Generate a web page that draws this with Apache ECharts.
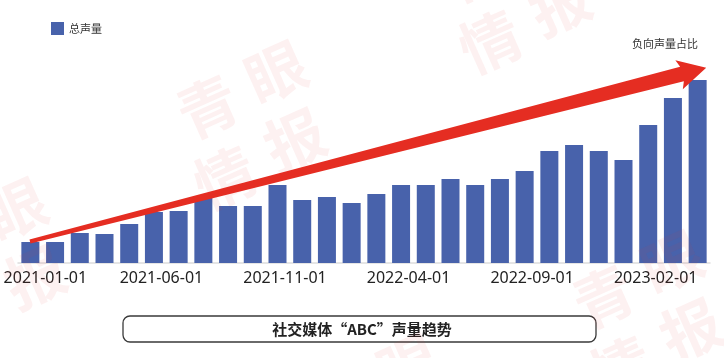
<!DOCTYPE html>
<html>
<head>
<meta charset="utf-8">
<script src="https://cdn.jsdelivr.net/npm/echarts@6/dist/echarts.min.js"></script>
<style>
html,body{margin:0;padding:0;background:#fff;}
#c{width:724px;height:358px;}
</style>
</head>
<body>
<div id="c"></div>
<script>
// ---- data ----
var categories = ['2021-01-01','2021-02-01','2021-03-01','2021-04-01','2021-05-01','2021-06-01','2021-07-01','2021-08-01','2021-09-01','2021-10-01','2021-11-01','2021-12-01','2022-01-01','2022-02-01','2022-03-01','2022-04-01','2022-05-01','2022-06-01','2022-07-01','2022-08-01','2022-09-01','2022-10-01','2022-11-01','2022-12-01','2023-01-01','2023-02-01','2023-03-01','2023-04-01'];
var totalVolume = [21,21,30,29,39,51,52,65,57,57,78,63,66,60,69,78,78,84,78,84,92,112,118,112,103,138,165,183];
var seriesName = '总声量';
var arrowLabel = '负向声量占比';
var chartTitle = '社交媒体“ABC”声量趋势';
var watermarkChars = ['青','眼','情','报'];

var chart = echarts.init(document.getElementById('c'), null, {renderer:'canvas'});

// arrow polygon (annotation)
function arrowPoints(){
  var c0 = [30, 241.5], cb = [682, 74];
  var dx = cb[0]-c0[0], dy = cb[1]-c0[1];
  var len = Math.sqrt(dx*dx+dy*dy);
  var d = [dx/len, dy/len], n = [-d[1], d[0]];
  if (n[1] < 0) { n = [-n[0], -n[1]]; }
  function p(c, k, m){ return [c[0]+n[0]*k+d[0]*m, c[1]+n[1]*k+d[1]*m]; }
  return [
    p(c0,-2,0), p(cb,-7.5,0), p(cb,-15,-3), p(cb,0,25), p(cb,15,-3), p(cb,7.5,0), p(c0,2,0)
  ];
}

var wmBlocks = [[208,107],[473,-29],[-52,244],[604,297],[340,400]];
var wmOffsets = [[0,0],[68,-35],[17,71],[87,33]];
var graphics = [];
wmBlocks.forEach(function(b){
  wmOffsets.forEach(function(o, i){
    graphics.push({
      type:'text', x:b[0]+o[0], y:b[1]+o[1], rotation: 24*Math.PI/180, z:100, silent:true,
      style:{text: watermarkChars[i], font:'bold 60px "Noto Sans CJK SC"', fill:'rgba(232,50,50,0.07)', align:'center', verticalAlign:'middle'}
    });
  });
});
graphics.push({
  type:'polygon', z:50, shape:{points: arrowPoints()}, style:{fill:'#e52d22'}
});
graphics.push({
  type:'text', x:632, y:38, z:60,
  style:{text: arrowLabel, font:'11px "Noto Sans CJK SC"', fill:'#333'}
});
graphics.push({
  type:'rect', z:60, shape:{x:123, y:316, width:473, height:26, r:7},
  style:{fill:'#fff', stroke:'#3a3a3a', lineWidth:1.3}
});
graphics.push({
  type:'text', x:362, y:329, z:61,
  style:{text: chartTitle, font:'bold 15px "Noto Sans CJK SC"', fill:'#222', align:'center', verticalAlign:'middle'}
});

chart.setOption({
  animation:false,
  backgroundColor:'#fff',
  legend:{
    left:46, top:17, icon:'rect', itemWidth:13, itemHeight:13, itemGap:10,
    textStyle:{fontSize:11, color:'#333', fontFamily:'"Noto Sans CJK SC"'},
    data:[seriesName]
  },
  grid:{left:18, right:14, top:63, bottom:95, containLabel:false},
  xAxis:{
    type:'category', data:categories,
    axisLine:{lineStyle:{color:'#ddd', width:1.5}},
    axisTick:{show:false},
    axisLabel:{
      interval:4, margin:7, color:'#222', fontSize:16, fontFamily:'"Noto Sans"',
      formatter:function(v, idx){ return idx === 0 ? '{f|'+v+'}' : '{n|'+v+'}'; },
      rich:{
        f:{padding:[0,0,0,30], fontSize:16, color:'#222', fontFamily:'"Noto Sans"'},
        n:{padding:[0,0,0,15], fontSize:16, color:'#222', fontFamily:'"Noto Sans"'}
      }
    }
  },
  yAxis:{type:'value', min:0, max:200, show:false, splitLine:{show:false}},
  series:[{
    name:seriesName, type:'bar', data:totalVolume, barWidth:18,
    itemStyle:{color:'#4862ab'}
  }],
  graphic: graphics
});
</script>
</body>
</html>
